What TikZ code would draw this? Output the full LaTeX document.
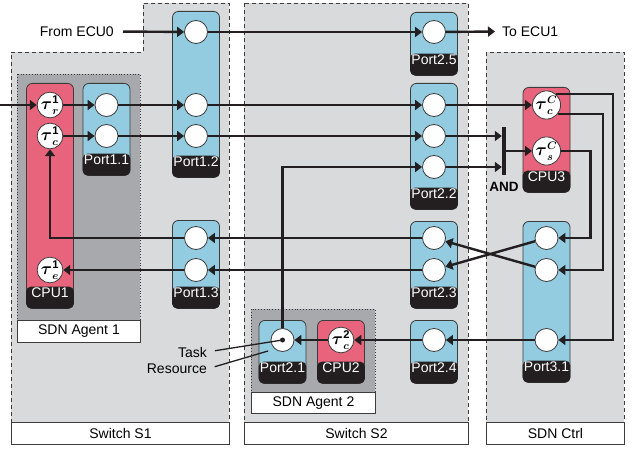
\documentclass[tikz,border=0pt]{standalone}
\usepackage{amsmath}
\usepackage{fontspec}
\setmainfont{Liberation Sans}
\usetikzlibrary{arrows.meta,positioning}
\definecolor{swgray}{HTML}{D9DADB}
\definecolor{aggray}{HTML}{A7A9AC}
\definecolor{cpupink}{HTML}{E8647C}
\definecolor{portblue}{HTML}{93CBE0}
\definecolor{tagblack}{HTML}{231F20}
\definecolor{edge}{HTML}{3C3C3C}
\tikzset{>={Triangle[length=7pt,width=10pt]},
  region/.style={draw=edge,fill=swgray,line width=.9pt,dash pattern=on 4pt off 3pt},
  agent/.style={draw=edge,fill=aggray,line width=.8pt,dotted},
  namebox/.style={draw=edge,fill=white,line width=.9pt,anchor=north west,inner sep=0,font=\fontsize{14}{16}\selectfont},
  portbox/.style={draw=edge,fill=portblue,rounded corners=6pt,minimum width=47,anchor=north,line width=.8pt},
  cpubox/.style={portbox,fill=cpupink},
  tag/.style={fill=tagblack,text=white,rounded corners=5pt,minimum width=47.8,minimum height=22,inner sep=0,anchor=south,font=\fontsize{14}{15}\selectfont},
  port/.style={circle,draw=edge,fill=white,minimum size=23,inner sep=0,line width=.8pt},
  task/.style={port,minimum size=22,font=\fontsize{16}{16}\selectfont},
  flow/.style={->,line width=2.4pt,draw=tagblack},
  lbl/.style={inner sep=0,font=\fontsize{14}{16}\selectfont}}

\begin{document}
\begin{tikzpicture}[x=1pt,y=-1pt]
\useasboundingbox (0,0) rectangle (636,449);
% switches and controller
\draw[region] (11,52)--(143,52)--(143,3)--(229,3)--(229,422)--(11,422)--cycle;
\draw[region] (244,3) rectangle (468,422);
\draw[region] (486,52) rectangle (624,422);
\node[namebox,minimum width=218,minimum height=22] (sw1) at (11,422) {Switch S1};
\node[namebox,minimum width=224,minimum height=22] (sw2) at (244,422) {Switch S2};
\node[namebox,minimum width=138,minimum height=22] (ctrl) at (486,422) {SDN Ctrl};
% agents
\draw[agent] (17,74) rectangle (140,320);
\draw[agent] (251,309) rectangle (375,392);
\node[namebox,minimum width=123,minimum height=22] (ag1) at (17,320) {SDN Agent 1};
\node[namebox,minimum width=124,minimum height=21] (ag2) at (251,392) {SDN Agent 2};
% ports and cpus
\foreach \nm/\sty/\cx/\top/\ht/\txt in {CPU1/cpubox/50/83/225/CPU1, P11/portbox/106.5/83/92/Port1.1,
  P12/portbox/196/11/166/Port1.2, P13/portbox/196/220/88/Port1.3, P25/portbox/434/12/63/Port2.5,
  P22/portbox/434/83/126/Port2.2, P23/portbox/434/221/87/Port2.3, P21/portbox/282.5/320/63/Port2.1,
  CPU2/cpubox/341/320/63/CPU2, P24/portbox/434/320/63/Port2.4, CPU3/cpubox/546.5/87/105/CPU3,
  P31/portbox/546.5/221/161/Port3.1}
  {\node[\sty,minimum height=\ht] (\nm) at (\cx,\top) {};
   \node[tag] (\nm-tag) at (\nm.south) {\txt};}
\foreach \nm/\x/\y in {p11a/106.5/105, p11b/106.5/136, p12a/196/32, p12b/196/105, p12c/196/136,
  p13a/196/238, p13b/196/270, p25a/434/32, p22a/434/105, p22b/434/136, p22c/434/167,
  p23a/434/238, p23b/434/270, p21a/282.5/340, p24a/434/340, p31a/546.5/238, p31b/546.5/270,
  p31c/546.5/340}
  {\node[port] (\nm) at (\x,\y) {};}
\node[circle,fill=tagblack,inner sep=0,minimum size=5] (p21dot) at (p21a) {};
% tasks
\node[task] (tr1) at (50,105) {$\boldsymbol{\tau}^{\mathbf{1}}_{\boldsymbol{r}}$};
\node[task] (tc1) at (50,136) {$\boldsymbol{\tau}^{\mathbf{1}}_{\boldsymbol{c}}$};
\node[task] (te1) at (50,270) {$\boldsymbol{\tau}^{\mathbf{1}}_{\boldsymbol{e}}$};
\node[task] (tc2) at (341,340) {$\boldsymbol{\tau}^{\mathbf{2}}_{\boldsymbol{c}}$};
\node[task] (tcC) at (546.5,105) {$\boldsymbol{\tau}^{\boldsymbol{C}}_{\boldsymbol{c}}$};
\node[task] (tsC) at (546.5,151) {$\boldsymbol{\tau}^{\boldsymbol{C}}_{\boldsymbol{s}}$};
\node[fill=tagblack,inner sep=0,minimum width=4,minimum height=48] (andbar) at (504,151) {};
\node[lbl,font=\fontsize{13.5}{15}\selectfont\bfseries] (andtxt) at (504,187) {AND};
% outside labels
\coordinate (inL) at (0,105);
\node[lbl,anchor=east] (ecu0) at (114,31.5) {From ECU0};
\node[lbl,anchor=west] (ecu1) at (502,31.5) {To ECU1};
\node[lbl,anchor=east] (task) at (207,352) {Task};
\node[lbl,anchor=east] (res) at (207,369) {Resource};
\coordinate (resEnd) at (268,351);
% flows
\draw[flow,shorten <=9pt] (ecu0.east) -- (p12a);
\draw[flow] (p12a) -- (p25a);
\draw[flow,shorten >=7pt] (p25a) -- (ecu1.west);
\draw[flow] (inL) -- (tr1);
\draw[flow] (tr1) -- (p11a);
\draw[flow] (p11a) -- (p12b);
\draw[flow] (p12b) -- (p22a);
\draw[flow] (p22a) -- (tcC);
\draw[flow] (tc1) -- (p11b);
\draw[flow] (p11b) -- (p12c);
\draw[flow] (p12c) -- (p22b);
\draw[flow] (p22b) -- (p22b -| andbar.west);
\draw[flow] (p22c) -- (p22c -| andbar.west);
\draw[flow] (tsC -| andbar.east) -- (tsC);
\draw[flow] (tcC.50) -- ++(57,0) |- (p31c);
\draw[flow] (tcC.-37) -- ++(45,0) |- (p31b);
\draw[flow] (tsC) -- ++(44,0) |- (p31a);
\draw[flow] (p31a) -- (p23b);
\draw[flow] (p31b) -- (p23a);
\draw[flow] (p23a) -- (p13a);
\draw[flow] (p23b) -- (p13b);
\draw[flow] (p13a) -| (tc1);
\draw[flow] (p13b) -- (te1);
\draw[flow] (p31c) -- (p24a);
\draw[flow] (p24a) -- (tc2);
\draw[flow] (tc2) -- (p21a);
\draw[flow] (p21a) |- (p22c);
\draw[line width=1.3pt,draw=tagblack,shorten <=8pt] (task.east) -- (p21dot);
\draw[line width=1.3pt,draw=tagblack,shorten <=8pt] (res.east) -- (resEnd);
\end{tikzpicture}
\end{document}
